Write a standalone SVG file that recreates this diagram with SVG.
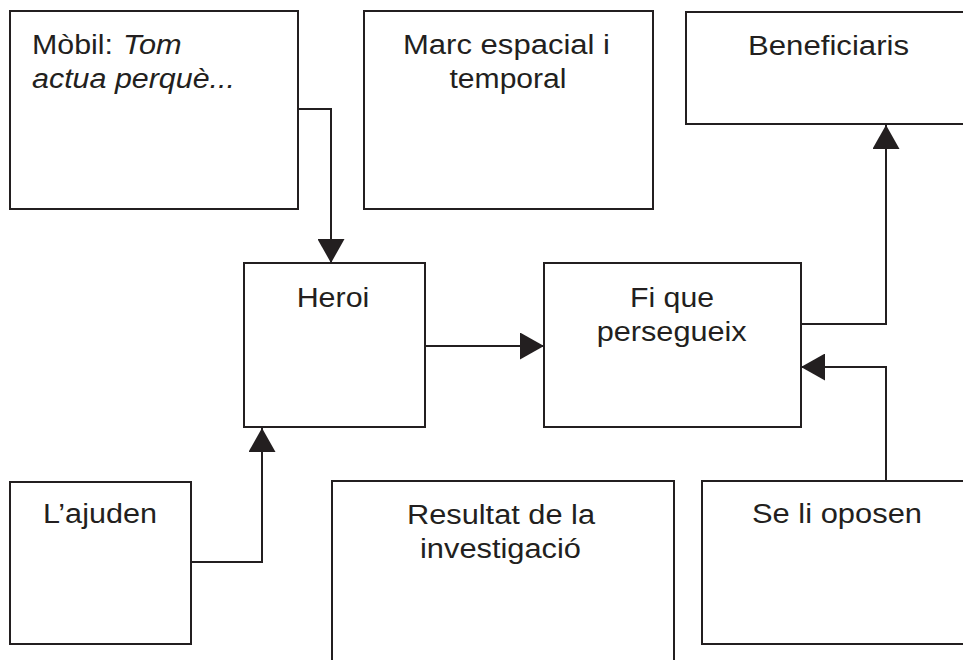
<svg xmlns="http://www.w3.org/2000/svg" width="963" height="660" viewBox="0 0 963 660">
<style>
rect.box{fill:#fff;stroke:#231f20;stroke-width:2}
text{font-family:"Liberation Sans",Arial,sans-serif;font-size:27px;fill:#231f20}
text.c{text-anchor:middle}
.it{font-style:italic}
#connectors path{fill:none;stroke:#231f20;stroke-width:2}
</style>
<defs>
<marker id="ah" markerUnits="userSpaceOnUse" markerWidth="24" markerHeight="27" refX="24" refY="13.5" orient="auto" viewBox="0 0 24 27">
<path d="M0,0 L24,13.5 L0,27 z" fill="#231f20"/>
</marker>
</defs>
<rect width="963" height="660" fill="#fff"/>
<g id="mobil">
<rect class="box" x="10" y="11" width="288" height="198"/>
<text x="32" y="54" textLength="81" lengthAdjust="spacingAndGlyphs">Mòbil:</text>
<text class="it" x="123" y="54" textLength="58.7" lengthAdjust="spacingAndGlyphs">Tom</text>
<text class="it" x="32" y="88" textLength="203" lengthAdjust="spacingAndGlyphs">actua perquè...</text>
</g>
<g id="marc">
<rect class="box" x="364" y="11" width="289" height="198"/>
<text class="c" x="506.5" y="54" textLength="207" lengthAdjust="spacingAndGlyphs">Marc espacial i</text>
<text class="c" x="508" y="88" textLength="117" lengthAdjust="spacingAndGlyphs">temporal</text>
</g>
<g id="beneficiaris">
<rect class="box" x="686" y="12" width="295" height="112"/>
<text class="c" x="828.5" y="55" textLength="161" lengthAdjust="spacingAndGlyphs">Beneficiaris</text>
</g>
<g id="heroi">
<rect class="box" x="244" y="263" width="181" height="164"/>
<text class="c" x="333" y="307" textLength="72.7" lengthAdjust="spacingAndGlyphs">Heroi</text>
</g>
<g id="fi">
<rect class="box" x="544" y="263" width="257" height="164"/>
<text class="c" x="672" y="307" textLength="84" lengthAdjust="spacingAndGlyphs">Fi que</text>
<text class="c" x="671.7" y="341" textLength="150" lengthAdjust="spacingAndGlyphs">persegueix</text>
</g>
<g id="ajuden">
<rect class="box" x="10" y="482" width="181" height="162"/>
<text class="c" x="100" y="523" textLength="114" lengthAdjust="spacingAndGlyphs">L’ajuden</text>
</g>
<g id="resultat">
<rect class="box" x="332" y="481" width="342" height="200"/>
<text class="c" x="501" y="524" textLength="188" lengthAdjust="spacingAndGlyphs">Resultat de la</text>
<text class="c" x="500.5" y="558" textLength="161" lengthAdjust="spacingAndGlyphs">investigació</text>
</g>
<g id="oposen">
<rect class="box" x="702" y="481" width="280" height="163"/>
<text class="c" x="837" y="523" textLength="170" lengthAdjust="spacingAndGlyphs">Se li oposen</text>
</g>
<g id="connectors">
<path d="M298,109 H331 V263" marker-end="url(#ah)"/>
<path d="M425,346 H544" marker-end="url(#ah)"/>
<path d="M801,324 H886 V125" marker-end="url(#ah)"/>
<path d="M886,481 V367 H801" marker-end="url(#ah)"/>
<path d="M191,562 H262 V428" marker-end="url(#ah)"/>
</g>
</svg>
